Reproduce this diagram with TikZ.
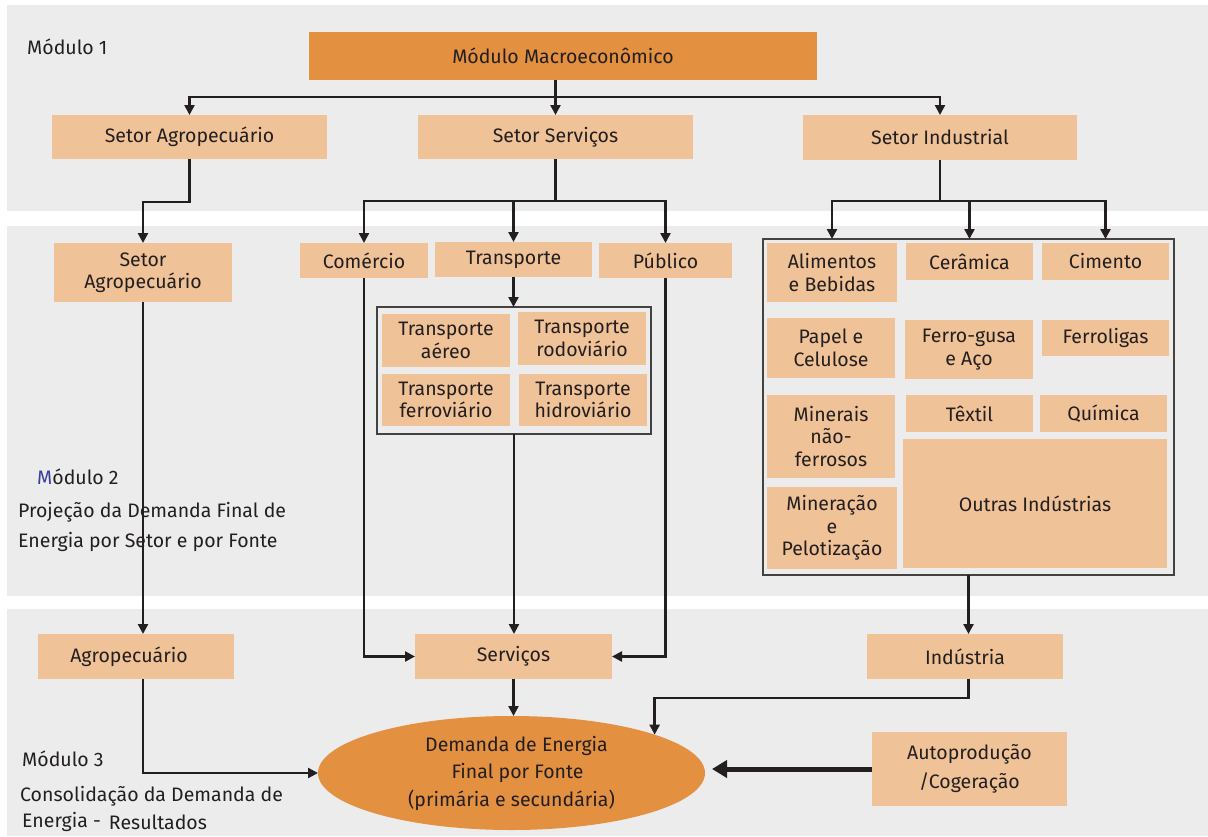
\documentclass[tikz,border=0pt]{standalone}
\usepackage{fontspec}
\setmainfont{Fira Sans}
\usetikzlibrary{arrows.meta,shapes.geometric}
\definecolor{bandgray}{HTML}{EBECEB}
\definecolor{lightor}{HTML}{F0C297}
\definecolor{darkor}{HTML}{E39041}
\definecolor{ink}{HTML}{231F20}
\definecolor{mblue}{HTML}{3B3F9C}
\newcommand{\txtsize}{\fontsize{19.5}{22.5}\selectfont}
\tikzset{
  band/.style={fill=bandgray,draw=none},
  lbox/.style={fill=lightor,draw=none,inner sep=0pt,outer sep=0pt,align=center,text=ink,
    font=\txtsize},
  frame/.style={draw=ink!85,line width=1.2pt,fill=none,inner sep=0pt,outer sep=0pt},
  modtxt/.style={anchor=west,inner sep=0pt,text=ink,font=\txtsize,align=left},
  conn/.style={draw=ink,line width=2.4pt},
  arr/.style={conn,-{Triangle[width=10pt,length=10pt]}},
  bigarr/.style={draw=ink,line width=5pt,-{Triangle[width=17pt,length=15pt]}}
}
\begin{document}
\begin{tikzpicture}[x=1pt,y=-1pt]
\useasboundingbox (0,0) rectangle (1208,836);
\fill[white] (0,0) rectangle (1208,836);
% three module bands
\path[band] (7,5) rectangle (1208,211);
\path[band] (7,226) rectangle (1208,596);
\path[band] (7,609) rectangle (1208,836);

% module captions
\node[modtxt] (m1) at (27,47) {Módulo 1};
\node[modtxt] (m2) at (37,477) {\textcolor{mblue}{M}ódulo 2};
\node[modtxt] (m2a) at (18,512) {Projeção da Demanda Final de};
\node[modtxt] (m2b) at (18,542) {Energia por Setor e por Fonte};
\node[modtxt] (m3) at (22,759) {Módulo 3};
\node[modtxt] (m3a) at (20,796) {Consolidação da Demanda de};
\node[modtxt] (m3b) at (22,822) {Energia -\hspace{8pt}\raisebox{-2pt}{Resultados}};

% module 1
\node[lbox,fill=darkor,minimum width=508pt,minimum height=48pt] (macro) at (563,56) {Módulo Macroeconômico};
\node[lbox,minimum width=275pt,minimum height=44pt] (agroT) at (189.5,137) {Setor Agropecuário};
\node[lbox,minimum width=275pt,minimum height=44pt] (servT) at (555.5,137) {Setor Serviços};
\node[lbox,minimum width=274pt,minimum height=45pt] (indT) at (940,137.5) {Setor Industrial};

% module 2 - agriculture and services
\node[lbox,minimum width=178pt,minimum height=59pt] (agro2) at (143,272.5) {Setor\\Agropecuário};
\node[lbox,minimum width=128pt,minimum height=35pt] (comercio) at (364,260.5) {Comércio};
\node[lbox,minimum width=157pt,minimum height=35pt] (transp) at (513.5,259.5) {Transporte};
\node[lbox,minimum width=133pt,minimum height=35pt] (publico) at (665.5,260.5) {Público};

\node[frame,minimum width=274pt,minimum height=127pt] (tframe) at (514,370.5) {};
\node[lbox,minimum width=128pt,minimum height=53pt] (aereo) at (446,340.5) {Transporte\\aéreo};
\node[lbox,minimum width=128pt,minimum height=53pt] (rodo) at (582,338.5) {Transporte\\rodoviário};
\node[lbox,minimum width=128pt,minimum height=52pt] (ferro) at (446,400) {Transporte\\ferroviário};
\node[lbox,minimum width=128pt,minimum height=52pt] (hidro) at (583,400) {Transporte\\hidroviário};

% module 2 - industry
\node[frame,minimum width=411pt,minimum height=336pt] (iframe) at (968.5,407) {};
\node[lbox,minimum width=130pt,minimum height=59pt] (alim) at (832,272.5) {Alimentos\\e Bebidas};
\node[lbox,minimum width=127pt,minimum height=37pt] (ceram) at (969.5,261.5) {Cerâmica};
\node[lbox,minimum width=127pt,minimum height=37pt] (cimento) at (1105.5,261.5) {Cimento};
\node[lbox,minimum width=128pt,minimum height=60pt] (papel) at (831,348) {Papel e\\Celulose};
\node[lbox,minimum width=128pt,minimum height=59pt] (fgusa) at (969,349.5) {Ferro-gusa\\e Aço};
\node[lbox,minimum width=127pt,minimum height=36pt] (fligas) at (1105.5,338) {Ferroligas};
\node[lbox,minimum width=128pt,minimum height=83pt] (minerais) at (831,436.5) {Minerais\\não-\\ferrosos};
\node[lbox,minimum width=127pt,minimum height=37pt] (textil) at (969.5,413.5) {Têxtil};
\node[lbox,minimum width=127pt,minimum height=37pt] (quimica) at (1103.5,413.5) {Química};
\node[lbox,minimum width=264pt,minimum height=129pt] (outras) at (1035,503.5) {Outras Indústrias};
\node[lbox,minimum width=130pt,minimum height=82pt] (minerac) at (832,528) {Mineração\\e\\Pelotização};

% module 3
\node[lbox,minimum width=196pt,minimum height=45pt] (agro3) at (136,656.5) {\hspace*{-14pt}Agropecuário};
\node[lbox,minimum width=197pt,minimum height=45pt] (servicos) at (513.5,656.5) {Serviços};
\node[lbox,minimum width=196pt,minimum height=45pt] (industria) at (965,656.5) {Indústria};
\node[ellipse,fill=darkor,draw=none,inner sep=0pt,outer sep=0pt,minimum width=387pt,minimum height=114pt,
  text=ink,align=center,font=\fontsize{19.5}{27.5}\selectfont] (ell) at (511.5,773)
  {\hspace*{10pt}Demanda de Energia\\\hspace*{12pt}Final por Fonte\\(primária e secundária)};
\node[lbox,minimum width=195pt,minimum height=74pt,font=\fontsize{19.5}{29}\selectfont] (auto) at (969.5,769) {Autoprodução\\/Cogeração};

% connectors, module 1
\coordinate (bus1) at (servT.north |- 0,97);
\draw[conn] (servT.north |- macro.south) -- (bus1);
\draw[arr] (bus1) -| (agroT.north);
\draw[arr] (bus1) -- (servT.north);
\draw[arr] (bus1) -| (indT.north);

% connectors into module 2
\draw[arr] (agroT.south) |- (agro2.north |- 0,202) -- (agro2.north);
\coordinate (bus2) at (servT.south |- 0,201);
\draw[conn] (servT.south) -- (bus2);
\draw[arr] (bus2) -| (comercio.north);
\draw[arr] (bus2) -| (transp.north);
\draw[arr] (bus2) -| (publico.north);
\coordinate (bus3) at (indT.south |- 0,201);
\draw[conn] (indT.south) -- (bus3);
\draw[arr] (bus3) -| (alim.north |- iframe.north);
\draw[arr] (bus3) -| (ceram.north |- iframe.north);
\draw[arr] (bus3) -| (cimento.north |- iframe.north);
\draw[arr] (transp.south) -- (transp.south |- tframe.north);

% connectors into module 3
\draw[arr] (agro2.south) -- (agro2.south |- agro3.north);
\draw[arr] (tframe.south) -- (tframe.south |- servicos.north);
\draw[arr] (comercio.south) |- (servicos.west);
\draw[arr] (publico.south) |- (servicos.east);
\draw[arr] (iframe.south) -- (iframe.south |- industria.north);

% connectors into the final demand
\draw[arr] (agro2.south |- agro3.south) |- (ell.west);
\draw[arr] (servicos.south) -- (servicos.south |- ell.north);
\draw[arr] (industria.south -| iframe.south) -- ++(0,19) -| (ell.15);
\draw[bigarr,shorten >=7pt] (auto.west) -- (auto.west -| ell.east);
\end{tikzpicture}
\end{document}
